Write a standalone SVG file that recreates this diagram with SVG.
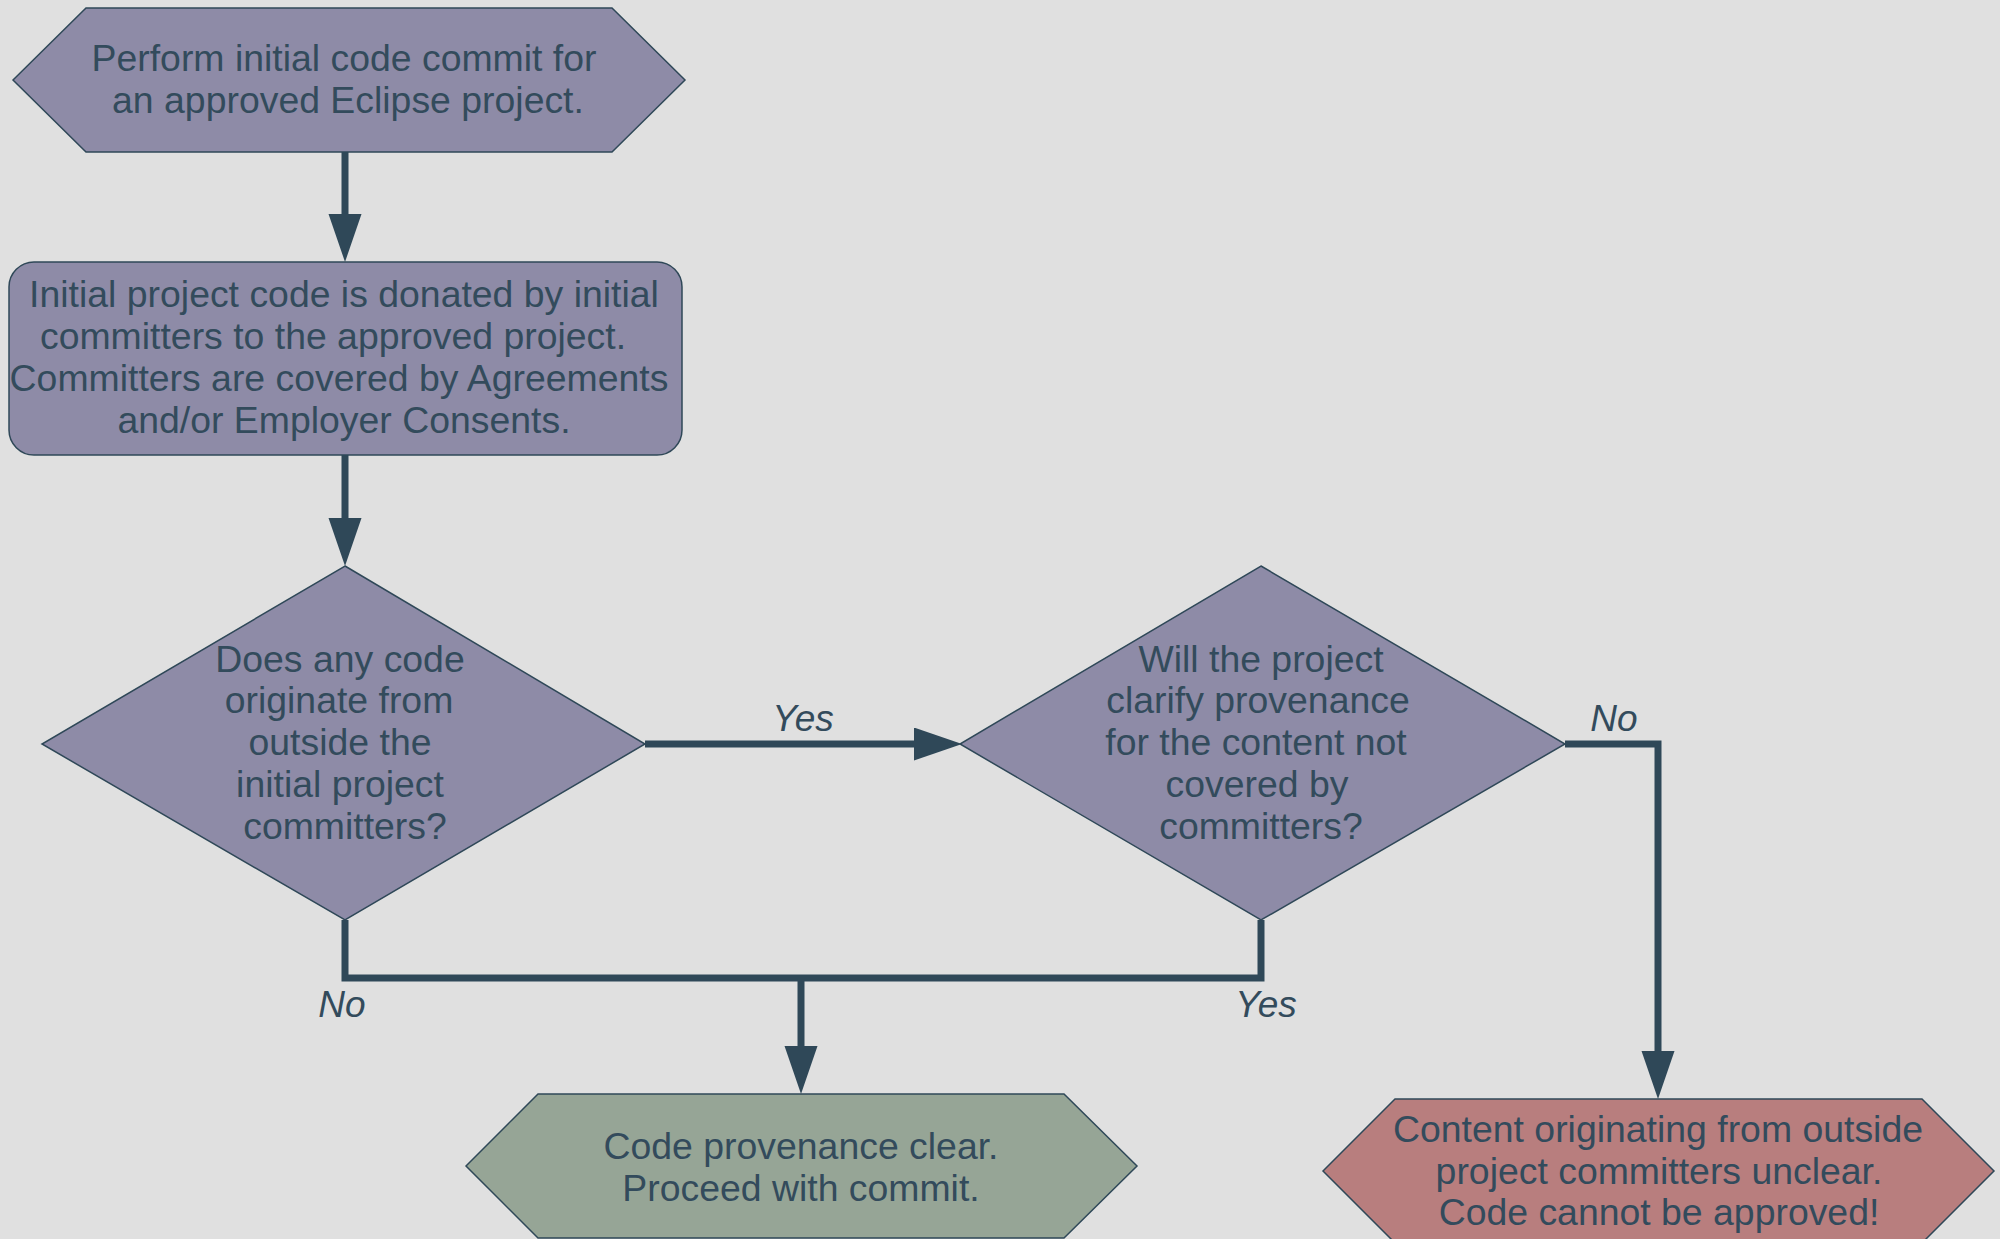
<svg xmlns="http://www.w3.org/2000/svg" width="2000" height="1239" viewBox="0 0 2000 1239">
  <style>
    .node { fill: #8e8ba7; stroke: #2f4858; stroke-width: 1.5; }
    .ok { fill: #96a596; }
    .bad { fill: #b87e7e; }
    .t { font-family: "Liberation Sans", Arial, Helvetica, sans-serif; font-size: 37.4px; fill: #334b5c; text-anchor: middle; }
    .lbl { font-family: "Liberation Sans", Arial, Helvetica, sans-serif; font-size: 37px; font-style: italic; fill: #334b5c; text-anchor: middle; }
    .edge { fill: none; stroke: #2f4858; stroke-width: 7; stroke-linejoin: miter; }
  </style>
  <defs>
    <marker id="arrow" markerUnits="userSpaceOnUse" markerWidth="50" markerHeight="34" refX="0" refY="16.5" orient="auto">
      <path d="M0,0 L48,16.5 L0,33 Z" fill="#2f4858"/>
    </marker>
  </defs>
  <rect width="2000" height="1239" fill="#e0e0e0"/>

  <g id="connectors">
    <path class="edge" d="M345,152 L345,214" marker-end="url(#arrow)"/>
    <path class="edge" d="M345,455 L345,518" marker-end="url(#arrow)"/>
    <path class="edge" d="M645,744 L914,744" marker-end="url(#arrow)"/>
    <path class="edge" d="M345,920 L345,978 L1261,978 L1261,920"/>
    <path class="edge" d="M801,978 L801,1046" marker-end="url(#arrow)"/>
    <path class="edge" d="M1565,744 L1658,744 L1658,1051" marker-end="url(#arrow)"/>
    <text class="lbl" x="803" y="731">Yes</text>
    <text class="lbl" x="1614" y="731">No</text>
    <text class="lbl" x="342" y="1017">No</text>
    <text class="lbl" x="1266" y="1017">Yes</text>
  </g>

  <g id="start">
    <polygon class="node" points="13,80 86,8 612,8 685,80 612,152 86,152"/>
    <text class="t" x="344" y="71">Perform initial code commit for</text>
    <text class="t" x="348" y="113">an approved Eclipse project.</text>
  </g>

  <g id="donation">
    <rect class="node" x="9" y="262" width="673" height="193" rx="25" ry="25"/>
    <text class="t" x="344" y="307">Initial project code is donated by initial</text>
    <text class="t" x="333" y="349">committers to the approved project.</text>
    <text class="t" x="339" y="391">Committers are covered by Agreements</text>
    <text class="t" x="344" y="433">and/or Employer Consents.</text>
  </g>

  <g id="decision1">
    <polygon class="node" points="345,566 645,744 345,920 42,744"/>
    <text class="t" x="340" y="672">Does any code</text>
    <text class="t" x="339" y="713">originate from</text>
    <text class="t" x="340" y="755">outside the</text>
    <text class="t" x="340" y="797">initial project</text>
    <text class="t" x="345" y="839">committers?</text>
  </g>

  <g id="decision2">
    <polygon class="node" points="1261,566 1565,744 1261,920 960,744"/>
    <text class="t" x="1261" y="672">Will the project</text>
    <text class="t" x="1258" y="713">clarify provenance</text>
    <text class="t" x="1256" y="755">for the content not</text>
    <text class="t" x="1257" y="797">covered by</text>
    <text class="t" x="1261" y="839">committers?</text>
  </g>

  <g id="clear">
    <polygon class="node ok" points="466,1166 538,1094 1064,1094 1137,1166 1064,1238 538,1238"/>
    <text class="t" x="801" y="1159">Code provenance clear.</text>
    <text class="t" x="801" y="1201">Proceed with commit.</text>
  </g>

  <g id="unclear">
    <polygon class="node bad" points="1323,1171 1395,1099 1922,1099 1994,1171 1922,1243 1395,1243"/>
    <text class="t" x="1658" y="1142">Content originating from outside</text>
    <text class="t" x="1659" y="1184">project committers unclear.</text>
    <text class="t" x="1659" y="1225">Code cannot be approved!</text>
  </g>
</svg>
